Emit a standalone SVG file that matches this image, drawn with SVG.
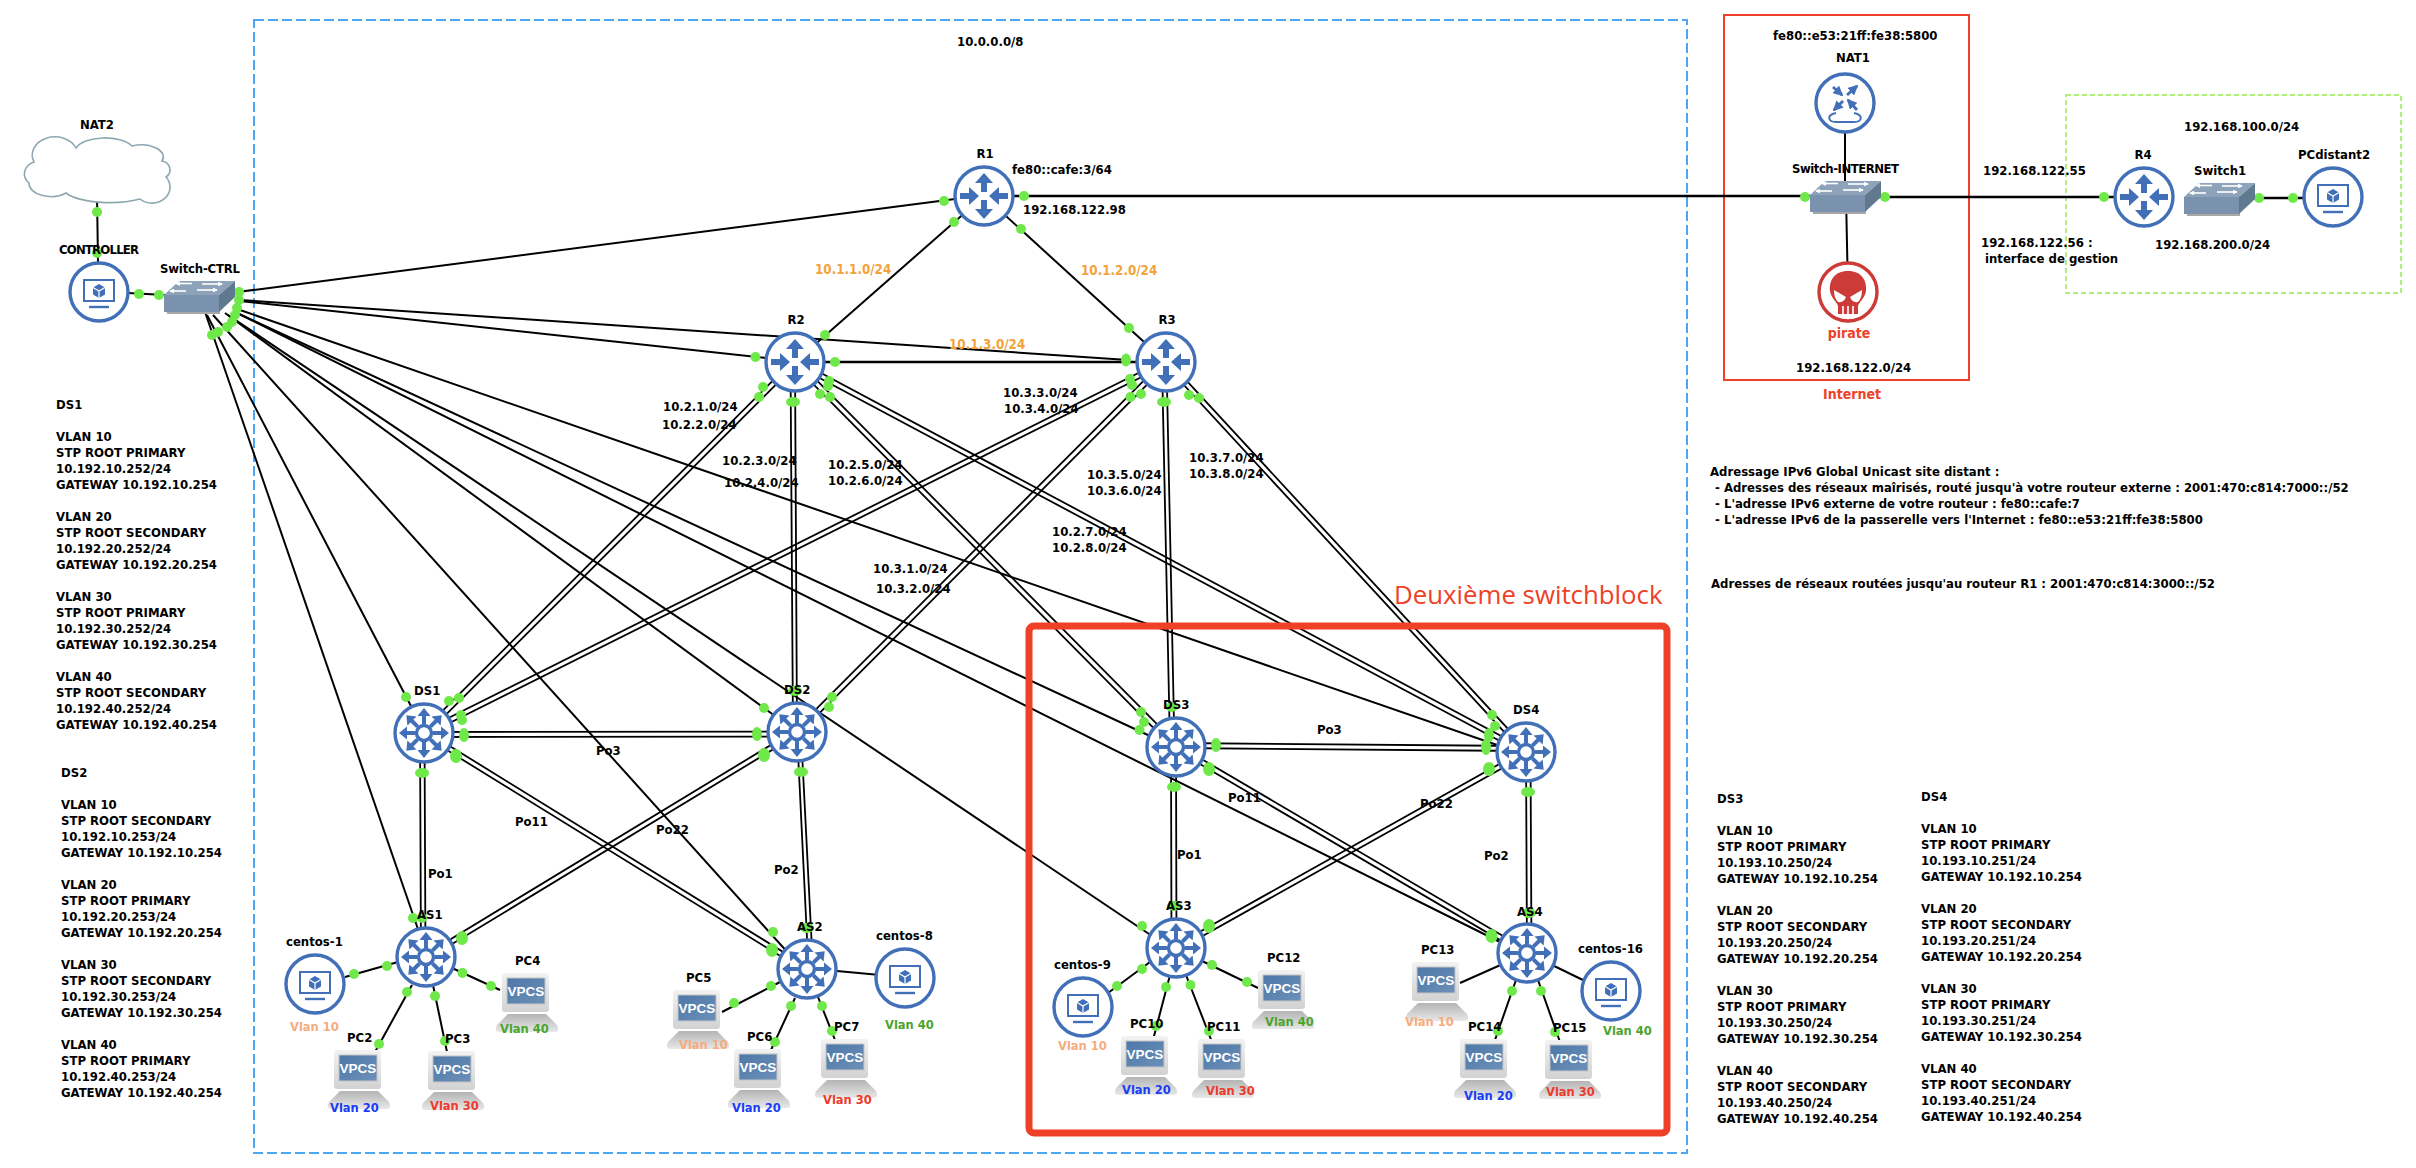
<svg xmlns="http://www.w3.org/2000/svg" width="2416" height="1168" viewBox="0 0 2416 1168">
<style>
text{font-family:"DejaVu Sans Condensed","DejaVu Sans",sans-serif;font-stretch:condensed;font-weight:700;font-size:13px;fill:#000}
.m{text-anchor:middle}
.or{fill:#f2a33a;font-size:13.3px}
.v{font-size:12.8px}
.v1{fill:#f5ac7e}.v2{fill:#1a3cf5}.v3{fill:#ee3a2c}.v4{fill:#4aa52c}
.red{fill:#ee4127;font-size:14px}
.big{font-family:"Open Sans","DejaVu Sans",sans-serif;font-stretch:normal;font-weight:400;font-size:25.8px;fill:#ee4127}
.vp{font-family:"Liberation Sans",sans-serif;font-stretch:normal;fill:#fff;font-size:13.5px;text-anchor:middle}
.s{fill:none;stroke:#000;stroke-width:2}
.th{fill:none;stroke:#000;stroke-width:2.6}
.db{fill:none;stroke:#000;stroke-width:1.8}
.dot{fill:#6fe84a}
.ring{fill:#fff;stroke:#4270b8;stroke-width:3.4}
.bl{fill:#4270b8}
</style>
<defs>
<linearGradient id="gm" x1="0" y1="0" x2="0" y2="1"><stop offset="0" stop-color="#f2f2f2"/><stop offset="1" stop-color="#d2d2d2"/></linearGradient>
<linearGradient id="gb" x1="0" y1="0" x2="0" y2="1"><stop offset="0" stop-color="#b4b4b4"/><stop offset="1" stop-color="#e8e8e8"/></linearGradient>
<linearGradient id="gs" x1="0" y1="0" x2="1" y2="1"><stop offset="0" stop-color="#4d78a8"/><stop offset="1" stop-color="#6d90b8"/></linearGradient>
<path id="ai" d="M0-5 L9-15 L3-15 L3-24 L-3-24 L-3-15 L-9-15Z"/>
<path id="ao" d="M0-23 L9-13 L3-13 L3-4 L-3-4 L-3-13 L-9-13Z"/>
<path id="a8" d="M0-25 L6.5-17 L2-17 L2-9 L-2-9 L-2-17 L-6.5-17Z"/>
<marker id="ah" viewBox="0 0 6 6" refX="5" refY="3" markerWidth="3.4" markerHeight="3.4" orient="auto"><path d="M0,0 L6,3 L0,6Z" fill="#4270b8"/></marker>
<marker id="aw" viewBox="0 0 6 6" refX="5" refY="3" markerWidth="3" markerHeight="3" orient="auto"><path d="M0,0 L6,3 L0,6Z" fill="#fff"/></marker>
<g id="i-router"><circle r="29" class="ring"/><g class="bl"><use href="#ao"/><use href="#ao" transform="rotate(180)"/><use href="#ai" transform="rotate(90)"/><use href="#ai" transform="rotate(-90)"/></g></g>
<g id="i-l3"><circle r="29" class="ring"/><g class="bl"><use href="#a8"/><use href="#a8" transform="rotate(45)"/><use href="#a8" transform="rotate(90)"/><use href="#a8" transform="rotate(135)"/><use href="#a8" transform="rotate(180)"/><use href="#a8" transform="rotate(225)"/><use href="#a8" transform="rotate(270)"/><use href="#a8" transform="rotate(315)"/></g><circle r="7.5" fill="#fff" stroke="#4270b8" stroke-width="3.4"/></g>
<g id="i-pc"><circle r="29" class="ring"/><rect x="-15" y="-12" width="30" height="21" fill="#fff" stroke="#4270b8" stroke-width="2"/><line x1="-10" y1="15" x2="10" y2="15" stroke="#4270b8" stroke-width="2.4"/><path d="M0-8 L6-4.5 L6,2.5 L0,6 L-6,2.5 L-6-4.5Z" fill="#4270b8"/><path d="M-6-4.5 L0-1 L6-4.5 M0-1 V6" fill="none" stroke="#fff" stroke-width="1.2"/></g>
<g id="i-vpcs"><path d="M13,41 H51 L62,52 Q65,59 60,59 H4 Q-1,59 2,52Z" fill="url(#gb)"/><rect x="7" y="0" width="47" height="39" rx="3" fill="url(#gm)"/><rect x="12" y="5" width="38" height="26" fill="url(#gs)" stroke="#c4c4c4"/><text x="31" y="23" class="vp">VPCS</text></g>
<g id="i-sw"><path d="M0,14 H55 V32 H2 Z" fill="#a8a8a8" transform="translate(1,1)"/><path d="M15,0 H71 L55,14 H0Z" fill="#8ea3ba"/><path d="M0,14 H55 V31 H0Z" fill="#7a92ad"/><path d="M55,14 L71,0 V16 L55,31Z" fill="#61798f"/><g fill="none" stroke="#fff" stroke-width="1.6"><path d="M28,2.5 H12" marker-end="url(#aw)"/><path d="M38,3 H58" marker-end="url(#aw)"/><path d="M22,10 H6" marker-end="url(#aw)"/><path d="M33,9 H53" marker-end="url(#aw)"/></g></g>
</defs>
<rect width="2416" height="1168" fill="#fff"/>
<g id="areas">
<rect x="254" y="20" width="1433" height="1133" fill="none" stroke="#4da6f5" stroke-width="2" stroke-dasharray="10 4"/>
<rect x="1724" y="15" width="245" height="365" fill="none" stroke="#ee4127" stroke-width="2"/>
<rect x="2066" y="95" width="335" height="198" fill="none" stroke="#aff07a" stroke-width="2" stroke-dasharray="5 3"/>
</g>
<g id="connectors">
<path class="s" d="M97,195 L98,262"/>
<path class="s" d="M128,293 L165,295"/>
<path class="s" d="M230,293 L955,199"/>
<path class="s" d="M240,300 L1128,360"/>
<path class="s" d="M240,301 L766,358"/>
<path class="s" d="M240,310 L1497,745"/>
<path class="s" d="M235,312 L1150,736"/>
<path class="s" d="M235,312 L1500,942"/>
<path class="s" d="M228,315 L1155,938"/>
<path class="s" d="M225,313 L775,716"/>
<path class="s" d="M213,315 L790,955"/>
<path class="s" d="M207,315 L412,708"/>
<path class="s" d="M205,312 L420,935"/>
<path class="s" d="M984,196 L795,362"/>
<path class="s" d="M984,196 L1166,362"/>
<path class="th" d="M795,362 H1166"/>
<path class="th" d="M984,196 H1845 M1845,197 H2144 M2220,198 H2333"/>
<path class="s" d="M1845,103 V196 M1846,196 L1848,292"/>
<path class="db" d="M796.8,363.8 L425.8,734.8 M793.2,360.2 L422.2,731.2"/>
<path class="db" d="M790.5,362 L793,732 M795,362 L797,732"/>
<path class="db" d="M796.8,360.2 L1177.8,745.2 M793.2,363.8 L1174.2,748.8"/>
<path class="db" d="M796.2,359.8 L1527.2,749.8 M793.8,364.2 L1524.8,754.2"/>
<path class="db" d="M1167.1,364.2 L425.1,735.2 M1164.9,359.8 L422.9,730.8"/>
<path class="db" d="M1167.8,363.8 L798.8,733.8 M1164.2,360.2 L795.2,730.2"/>
<path class="db" d="M1162,362 L1170,747 M1166.5,362 L1174.5,747"/>
<path class="db" d="M1167.8,360.3 L1527.8,750.3 M1164.2,363.7 L1524.2,753.7"/>
<path class="db" d="M424,732 L797,731.5 M424,737 L797,736.5"/>
<path class="db" d="M1176,743 L1526,746 M1176,748 L1526,751"/>
<path class="db" d="M420,733 L421,957 M424.5,733 L425.5,957"/>
<path class="db" d="M797,732 L808.5,969 M801,732 L813,969"/>
<path class="db" d="M425.3,730.9 L807.3,966.9 M422.7,735.1 L804.7,971.1"/>
<path class="db" d="M798.3,734.1 L427.3,959.1 M795.7,729.9 L424.7,954.9"/>
<path class="db" d="M1171,747 L1171.5,948 M1176,747 L1176.5,948"/>
<path class="db" d="M1526,752 L1527,953 M1530.5,752 L1531.5,953"/>
<path class="db" d="M1177.3,744.8 L1528.3,950.8 M1174.7,749.2 L1525.7,955.2"/>
<path class="db" d="M1527.2,754.2 L1177.2,950.2 M1524.8,749.8 L1174.8,945.8"/>
<path class="s" d="M345,977 L398,962"/>
<path class="s" d="M412,985 L375,1052"/>
<path class="s" d="M433,985 L447,1052"/>
<path class="s" d="M452,968 L500,990"/>
<path class="s" d="M780,982 L722,1012"/>
<path class="s" d="M795,998 L771,1050"/>
<path class="s" d="M818,997 L835,1040"/>
<path class="s" d="M837,971 L880,975"/>
<path class="s" d="M1150,962 L1108,993"/>
<path class="s" d="M1170,975 L1153,1040"/>
<path class="s" d="M1186,975 L1212,1042"/>
<path class="s" d="M1200,960 L1258,988"/>
<path class="s" d="M1505,963 L1460,983"/>
<path class="s" d="M1516,980 L1495,1040"/>
<path class="s" d="M1538,980 L1560,1042"/>
<path class="s" d="M1550,964 L1585,981"/>
</g>
<g id="port-dots" class="dot">
<circle cx="97" cy="212" r="5"/><circle cx="97" cy="253" r="5"/><circle cx="139" cy="294" r="5"/><circle cx="159" cy="295" r="5"/>
<circle cx="239" cy="292" r="5"/><circle cx="239" cy="300" r="5"/><circle cx="237" cy="308" r="5"/><circle cx="235" cy="315" r="5"/><circle cx="232" cy="322" r="5"/><circle cx="227" cy="327" r="5"/><circle cx="218" cy="332" r="5"/><circle cx="212" cy="335" r="5"/>
<circle cx="944" cy="201" r="5"/><circle cx="954" cy="222" r="5"/><circle cx="1021" cy="229" r="5"/><circle cx="1024" cy="196" r="5"/>
<circle cx="825" cy="335" r="5"/><circle cx="755.5" cy="357" r="5"/><circle cx="835" cy="362" r="5"/><circle cx="763" cy="387" r="5"/><circle cx="759" cy="397" r="5"/><ellipse cx="793" cy="402" rx="7" ry="5"/><circle cx="820" cy="394" r="5"/><circle cx="830" cy="397" r="5"/><circle cx="829" cy="381" r="5"/><circle cx="828" cy="386" r="5"/>
<circle cx="1129" cy="328" r="5"/><ellipse cx="1126" cy="360" rx="5" ry="6.5"/><circle cx="1130" cy="379" r="5"/><circle cx="1132" cy="385" r="5"/><circle cx="1130.5" cy="397" r="5"/><circle cx="1141" cy="394" r="5"/><ellipse cx="1164" cy="402" rx="7" ry="5"/><circle cx="1189" cy="395" r="5"/><circle cx="1199" cy="398" r="5"/>
<circle cx="406" cy="697" r="5"/><circle cx="449" cy="701" r="5"/><circle cx="459" cy="698" r="5"/><circle cx="461" cy="715" r="5"/><circle cx="462" cy="720" r="5"/><ellipse cx="464" cy="735" rx="5" ry="7"/><ellipse cx="456" cy="756" rx="6" ry="7"/><ellipse cx="422" cy="773" rx="7" ry="5"/>
<circle cx="764" cy="708" r="5"/><ellipse cx="757" cy="734" rx="5" ry="7"/><ellipse cx="764" cy="755" rx="6" ry="7"/><ellipse cx="795" cy="691" rx="7" ry="5"/><ellipse cx="801" cy="772" rx="7" ry="5"/><circle cx="832" cy="697" r="5"/><circle cx="829" cy="707" r="5"/>
<circle cx="413" cy="918" r="5"/><circle cx="422" cy="918" r="5"/><ellipse cx="462" cy="938" rx="6" ry="7"/>
<circle cx="773" cy="932" r="5"/><ellipse cx="772" cy="950" rx="6" ry="7"/><ellipse cx="807" cy="928" rx="7" ry="5"/>
<circle cx="354" cy="974" r="5"/><circle cx="387" cy="966" r="5"/><circle cx="407" cy="992" r="5"/><circle cx="379" cy="1044" r="5"/><circle cx="435" cy="996" r="5"/><circle cx="445" cy="1041" r="5"/><circle cx="462.5" cy="973" r="5"/><circle cx="491" cy="986" r="5"/>
<circle cx="771" cy="986" r="5"/><circle cx="734" cy="1003" r="5"/><circle cx="791" cy="1006" r="5"/><circle cx="775" cy="1042" r="5"/><circle cx="822" cy="1006" r="5"/><circle cx="832" cy="1031" r="5"/>
<circle cx="1142" cy="926" r="5"/><ellipse cx="1174" cy="906" rx="7" ry="5"/><ellipse cx="1209" cy="926" rx="6" ry="7"/><circle cx="1142" cy="969" r="5"/><circle cx="1117" cy="986" r="5"/><circle cx="1166" cy="987" r="5"/><circle cx="1156" cy="1026" r="5"/><circle cx="1190.5" cy="985" r="5"/><circle cx="1209" cy="1031" r="5"/><circle cx="1212" cy="965" r="5"/><circle cx="1247" cy="982" r="5"/>
<circle cx="1141" cy="712" r="5"/><circle cx="1144" cy="722" r="5"/><circle cx="1139.5" cy="730" r="5"/><ellipse cx="1216" cy="745" rx="5" ry="7"/><ellipse cx="1209" cy="769" rx="6" ry="7"/><ellipse cx="1174" cy="787" rx="7" ry="5"/><ellipse cx="1171.5" cy="707" rx="6" ry="5"/>
<circle cx="1492" cy="715" r="5"/><circle cx="1495" cy="726" r="5"/><ellipse cx="1489" cy="735" rx="5" ry="7"/><ellipse cx="1486" cy="747" rx="5" ry="8"/><ellipse cx="1489" cy="769" rx="6" ry="7"/><ellipse cx="1528" cy="792" rx="7" ry="5"/>
<ellipse cx="1491.5" cy="936" rx="6" ry="7"/><ellipse cx="1529" cy="913" rx="7" ry="5"/><circle cx="1512" cy="991" r="5"/><circle cx="1498" cy="1031" r="5"/><circle cx="1541" cy="991" r="5"/><circle cx="1555" cy="1032" r="5"/>
<circle cx="1805" cy="197" r="5"/><circle cx="1885" cy="197" r="5"/><circle cx="2104" cy="197" r="5"/><circle cx="2259" cy="198" r="5"/><circle cx="2293" cy="198" r="5"/>
</g>
<rect id="switchblock-frame" x="1029" y="626" width="638" height="507" rx="5" fill="none" stroke="#ee4127" stroke-width="7"/>
<g id="NAT2"><path d="M34,162 A20,16 0 0 1 76,148 A30,14 0 0 1 132,146 A22,12 0 0 1 162,161 A10,9 0 0 1 166,177 A18,16 0 0 1 140,199 A48,16 0 0 1 66,193 A22,13 0 0 1 29,183 A16,13 0 0 1 34,162Z" fill="#fff" stroke="#8fa8b0" stroke-width="1.6"/><text x="97" y="129" class="m">NAT2</text></g>
<g id="CONTROLLER"><use href="#i-pc" x="99" y="292"/><text x="59" y="254" textLength="80">CONTROLLER</text></g>
<g id="Switch-CTRL"><use href="#i-sw" x="164" y="281"/><text x="160" y="273" textLength="80">Switch-CTRL</text></g>
<g id="R1"><use href="#i-router" x="984" y="196"/><text x="985" y="158" class="m">R1</text></g>
<g id="R2"><use href="#i-router" x="795" y="362"/><text x="796" y="324" class="m">R2</text></g>
<g id="R3"><use href="#i-router" x="1166" y="362"/><text x="1167" y="324" class="m">R3</text></g>
<g id="R4"><use href="#i-router" x="2144" y="197"/><text x="2143" y="159" class="m">R4</text></g>
<g id="DS1"><use href="#i-l3" x="424" y="733"/><text x="414" y="695">DS1</text></g>
<g id="DS2"><use href="#i-l3" x="797" y="732"/><text x="784" y="694">DS2</text></g>
<g id="DS3"><use href="#i-l3" x="1176" y="747"/><text x="1163" y="709">DS3</text></g>
<g id="DS4"><use href="#i-l3" x="1526" y="752"/><text x="1513" y="714">DS4</text></g>
<g id="AS1"><use href="#i-l3" x="426" y="957"/><text x="417" y="919">AS1</text></g>
<g id="AS2"><use href="#i-l3" x="807" y="969"/><text x="797" y="931">AS2</text></g>
<g id="AS3"><use href="#i-l3" x="1176" y="948"/><text x="1166" y="910">AS3</text></g>
<g id="AS4"><use href="#i-l3" x="1527" y="953"/><text x="1517" y="916">AS4</text></g>
<g id="centos-1"><use href="#i-pc" x="315" y="984"/><text x="286" y="946">centos-1</text><text x="290" y="1031" class="v v1">Vlan 10</text></g>
<g id="centos-8"><use href="#i-pc" x="905" y="978"/><text x="876" y="940">centos-8</text><text x="885" y="1029" class="v v4">Vlan 40</text></g>
<g id="centos-9"><use href="#i-pc" x="1083" y="1007"/><text x="1054" y="969">centos-9</text><text x="1058" y="1050" class="v v1">Vlan 10</text></g>
<g id="centos-16"><use href="#i-pc" x="1611" y="991"/><text x="1578" y="953">centos-16</text><text x="1603" y="1035" class="v v4">Vlan 40</text></g>
<g id="PC2"><use href="#i-vpcs" x="327" y="1050"/><text x="347" y="1042">PC2</text><text x="330" y="1112" class="v v2">Vlan 20</text></g>
<g id="PC3"><use href="#i-vpcs" x="421" y="1051"/><text x="445" y="1043">PC3</text><text x="430" y="1110" class="v v3">Vlan 30</text></g>
<g id="PC4"><use href="#i-vpcs" x="495" y="973"/><text x="515" y="965">PC4</text><text x="500" y="1033" class="v v4">Vlan 40</text></g>
<g id="PC5"><use href="#i-vpcs" x="666" y="990"/><text x="686" y="982">PC5</text><text x="679" y="1049" class="v v1">Vlan 10</text></g>
<g id="PC6"><use href="#i-vpcs" x="727" y="1049"/><text x="747" y="1041">PC6</text><text x="732" y="1112" class="v v2">Vlan 20</text></g>
<g id="PC7"><use href="#i-vpcs" x="814" y="1039"/><text x="834" y="1031">PC7</text><text x="823" y="1104" class="v v3">Vlan 30</text></g>
<g id="PC10"><use href="#i-vpcs" x="1114" y="1036"/><text x="1130" y="1028">PC10</text><text x="1122" y="1094" class="v v2">Vlan 20</text></g>
<g id="PC11"><use href="#i-vpcs" x="1191" y="1039"/><text x="1207" y="1031">PC11</text><text x="1206" y="1095" class="v v3">Vlan 30</text></g>
<g id="PC12"><use href="#i-vpcs" x="1251" y="970"/><text x="1267" y="962">PC12</text><text x="1265" y="1026" class="v v4">Vlan 40</text></g>
<g id="PC13"><use href="#i-vpcs" x="1405" y="962"/><text x="1421" y="954">PC13</text><text x="1405" y="1026" class="v v1">Vlan 10</text></g>
<g id="PC14"><use href="#i-vpcs" x="1453" y="1039"/><text x="1468" y="1031">PC14</text><text x="1464" y="1100" class="v v2">Vlan 20</text></g>
<g id="PC15"><use href="#i-vpcs" x="1538" y="1040"/><text x="1553" y="1032">PC15</text><text x="1546" y="1096" class="v v3">Vlan 30</text></g>
<g id="NAT1"><circle cx="1845" cy="103" r="29" class="ring"/><g fill="none" stroke="#4270b8" stroke-width="3"><path d="M1833,87 L1842,95" marker-end="url(#ah)"/><path d="M1847,95 L1857,86" marker-end="url(#ah)"/><path d="M1843,101 L1834,110" marker-end="url(#ah)"/><path d="M1857,110 L1848,100" marker-end="url(#ah)"/><path d="M1836,113 C1826,115 1828,122 1836,122 H1854 C1862,122 1864,115 1854,113" stroke-width="2"/></g><text x="1853" y="62" class="m">NAT1</text><text x="1773" y="40">fe80::e53:21ff:fe38:5800</text></g>
<g id="Switch-INTERNET"><use href="#i-sw" x="1810" y="181"/><text x="1792" y="173" textLength="107">Switch-INTERNET</text></g>
<g id="Switch1"><use href="#i-sw" x="2184" y="183"/><text x="2194" y="175">Switch1</text></g>
<g id="PCdistant2"><use href="#i-pc" x="2333" y="197"/><text x="2298" y="159">PCdistant2</text></g>
<g id="pirate"><circle cx="1848" cy="292" r="29" fill="#fff" stroke="#cc3b38" stroke-width="3.4"/><path d="M1848,271 C1862,271 1867,281 1866,291 C1865,298 1859,302 1858,306 V314 H1838 V306 C1837,302 1831,298 1830,291 C1829,281 1834,271 1848,271Z" fill="#cc3b38"/><path d="M1834,290 L1846,297 Q1844,303 1838,302 Q1834,298 1834,290Z M1862,290 L1850,297 Q1852,303 1858,302 Q1862,298 1862,290Z" fill="#fff"/><path d="M1843,306 V315 M1848,306 V315 M1853,306 V315" stroke="#fff" stroke-width="1.6"/><text x="1849" y="338" class="m red">pirate</text></g>
<g id="labels">
<text x="957" y="46">10.0.0.0/8</text>
<text x="1012" y="174">fe80::cafe:3/64</text>
<text x="1023" y="214">192.168.122.98</text>
<text x="815" y="274" class="or">10.1.1.0/24</text>
<text x="1081" y="275" class="or">10.1.2.0/24</text>
<text x="949" y="349" class="or">10.1.3.0/24</text>
<text x="663" y="411">10.2.1.0/24</text><text x="662" y="429">10.2.2.0/24</text>
<text x="722" y="465">10.2.3.0/24</text><text x="724" y="487">10.2.4.0/24</text>
<text x="828" y="469">10.2.5.0/24</text><text x="828" y="485">10.2.6.0/24</text>
<text x="1052" y="536">10.2.7.0/24</text><text x="1052" y="552">10.2.8.0/24</text>
<text x="873" y="573">10.3.1.0/24</text><text x="876" y="593">10.3.2.0/24</text>
<text x="1003" y="397">10.3.3.0/24</text><text x="1004" y="413">10.3.4.0/24</text>
<text x="1087" y="479">10.3.5.0/24</text><text x="1087" y="495">10.3.6.0/24</text>
<text x="1189" y="462">10.3.7.0/24</text><text x="1189" y="478">10.3.8.0/24</text>
<text x="596" y="755">Po3</text><text x="515" y="826">Po11</text><text x="656" y="834">Po22</text><text x="428" y="878">Po1</text><text x="774" y="874">Po2</text>
<text x="1317" y="734">Po3</text><text x="1228" y="802">Po11</text><text x="1420" y="808">Po22</text><text x="1177" y="859">Po1</text><text x="1484" y="860">Po2</text>
<text x="1394" y="604" class="big">Deuxième switchblock</text>
<text x="1983" y="175">192.168.122.55</text>
<text x="1981" y="247">192.168.122.56 :</text><text x="1985" y="263">interface de gestion</text>
<text x="2184" y="131">192.168.100.0/24</text>
<text x="2155" y="249">192.168.200.0/24</text>
<text x="1796" y="372">192.168.122.0/24</text>
<text x="1852" y="399" class="m red">Internet</text>
<text x="1710" y="476">Adressage IPv6 Global Unicast site distant :</text>
<text x="1715" y="492">- Adresses des réseaux maîrisés, routé jusqu'à votre routeur externe : 2001:470:c814:7000::/52</text>
<text x="1715" y="508">- L'adresse IPv6 externe de votre routeur : fe80::cafe:7</text>
<text x="1715" y="524">- L'adresse IPv6 de la passerelle vers l'Internet : fe80::e53:21ff:fe38:5800</text>
<text x="1711" y="588">Adresses de réseaux routées jusqu'au routeur R1 : 2001:470:c814:3000::/52</text>
</g>
<g id="notes">
<text x="56" y="409">DS1</text>
<text x="56" y="441">VLAN 10</text><text x="56" y="457">STP ROOT PRIMARY</text><text x="56" y="473">10.192.10.252/24</text><text x="56" y="489">GATEWAY 10.192.10.254</text>
<text x="56" y="521">VLAN 20</text><text x="56" y="537">STP ROOT SECONDARY</text><text x="56" y="553">10.192.20.252/24</text><text x="56" y="569">GATEWAY 10.192.20.254</text>
<text x="56" y="601">VLAN 30</text><text x="56" y="617">STP ROOT PRIMARY</text><text x="56" y="633">10.192.30.252/24</text><text x="56" y="649">GATEWAY 10.192.30.254</text>
<text x="56" y="681">VLAN 40</text><text x="56" y="697">STP ROOT SECONDARY</text><text x="56" y="713">10.192.40.252/24</text><text x="56" y="729">GATEWAY 10.192.40.254</text>
<text x="61" y="777">DS2</text>
<text x="61" y="809">VLAN 10</text><text x="61" y="825">STP ROOT SECONDARY</text><text x="61" y="841">10.192.10.253/24</text><text x="61" y="857">GATEWAY 10.192.10.254</text>
<text x="61" y="889">VLAN 20</text><text x="61" y="905">STP ROOT PRIMARY</text><text x="61" y="921">10.192.20.253/24</text><text x="61" y="937">GATEWAY 10.192.20.254</text>
<text x="61" y="969">VLAN 30</text><text x="61" y="985">STP ROOT SECONDARY</text><text x="61" y="1001">10.192.30.253/24</text><text x="61" y="1017">GATEWAY 10.192.30.254</text>
<text x="61" y="1049">VLAN 40</text><text x="61" y="1065">STP ROOT PRIMARY</text><text x="61" y="1081">10.192.40.253/24</text><text x="61" y="1097">GATEWAY 10.192.40.254</text>
<text x="1717" y="803">DS3</text>
<text x="1717" y="835">VLAN 10</text><text x="1717" y="851">STP ROOT PRIMARY</text><text x="1717" y="867">10.193.10.250/24</text><text x="1717" y="883">GATEWAY 10.192.10.254</text>
<text x="1717" y="915">VLAN 20</text><text x="1717" y="931">STP ROOT SECONDARY</text><text x="1717" y="947">10.193.20.250/24</text><text x="1717" y="963">GATEWAY 10.192.20.254</text>
<text x="1717" y="995">VLAN 30</text><text x="1717" y="1011">STP ROOT PRIMARY</text><text x="1717" y="1027">10.193.30.250/24</text><text x="1717" y="1043">GATEWAY 10.192.30.254</text>
<text x="1717" y="1075">VLAN 40</text><text x="1717" y="1091">STP ROOT SECONDARY</text><text x="1717" y="1107">10.193.40.250/24</text><text x="1717" y="1123">GATEWAY 10.192.40.254</text>
<text x="1921" y="801">DS4</text>
<text x="1921" y="833">VLAN 10</text><text x="1921" y="849">STP ROOT PRIMARY</text><text x="1921" y="865">10.193.10.251/24</text><text x="1921" y="881">GATEWAY 10.192.10.254</text>
<text x="1921" y="913">VLAN 20</text><text x="1921" y="929">STP ROOT SECONDARY</text><text x="1921" y="945">10.193.20.251/24</text><text x="1921" y="961">GATEWAY 10.192.20.254</text>
<text x="1921" y="993">VLAN 30</text><text x="1921" y="1009">STP ROOT PRIMARY</text><text x="1921" y="1025">10.193.30.251/24</text><text x="1921" y="1041">GATEWAY 10.192.30.254</text>
<text x="1921" y="1073">VLAN 40</text><text x="1921" y="1089">STP ROOT SECONDARY</text><text x="1921" y="1105">10.193.40.251/24</text><text x="1921" y="1121">GATEWAY 10.192.40.254</text>
</g>
</svg>
